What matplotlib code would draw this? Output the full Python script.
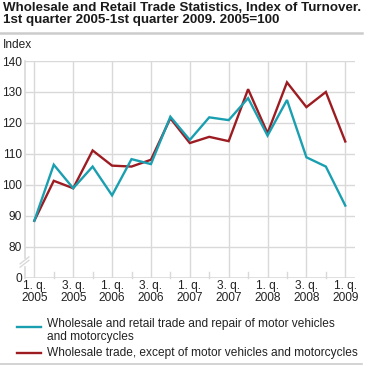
import matplotlib
matplotlib.use("Agg")
import matplotlib.pyplot as plt
from matplotlib.lines import Line2D

plt.rcParams['font.family'] = ['Liberation Sans', 'DejaVu Sans']

#####DATA#####
quarters = list(range(17))
tick_labels = ['1. q.\n2005', '3. q.\n2005', '1. q.\n2006', '3. q.\n2006', '1. q.\n2007',
               '3. q.\n2007', '1. q.\n2008', '3. q.\n2008', '1. q.\n2009']
retail_repair = [88.4, 106.5, 98.9, 105.9, 96.6, 108.3, 106.7, 122.0, 114.5,
                 121.8, 120.9, 128.0, 115.9, 127.4, 108.9, 105.9, 93.3]
wholesale = [88.4, 101.3, 98.9, 111.1, 106.2, 105.9, 108.1, 121.5, 113.5,
             115.5, 114.1, 130.9, 116.7, 133.1, 125.1, 130.0, 114.0]
y_ticks = [80, 90, 100, 110, 120, 130, 140]
label_retail = 'Wholesale and retail trade and repair of motor vehicles\nand motorcycles'
label_wholesale = 'Wholesale trade, except of motor vehicles and motorcycles'

teal = '#1a9fb1'
red = '#9c1c22'
grid_col = '#d9d9d9'
fs = 8.6

#####FIGURE#####
fig = plt.figure(figsize=(3.69, 3.66), dpi=100)
W, H = 369, 366
ax = fig.add_axes([25 / W, 1 - 277.7 / H, 330 / W, 216.7 / H])

# y axis is broken: 0 is drawn where 70 would be
y_zero = 70
ax.set_ylim(y_zero, 140)
ax.set_xlim(-0.48, 16.5)

for v in y_ticks:
    ax.axhline(v, color=grid_col, lw=1, zorder=1)
ax.axhline(y_zero, color=grid_col, lw=1.2, zorder=1)
for q in quarters[::2]:
    ax.axvline(q, color=grid_col, lw=1, zorder=1)
for q in quarters[1::2]:
    ax.plot([q, q], [y_zero, y_zero + 2], color=grid_col, lw=1, zorder=1, clip_on=False)

# left spine with break marks
xl = ax.get_xlim()[0]
ax.plot([xl, xl], [y_zero, 73.3], color=grid_col, lw=1.2, clip_on=False)
ax.plot([xl, xl], [76.5, 140], color=grid_col, lw=1.2, clip_on=False)
for off in (0, 1.1):
    ax.plot([xl - 0.25, xl + 0.2], [73.4 + off, 75.6 + off], color=grid_col, lw=1, clip_on=False)

ax.plot(quarters, retail_repair, color=teal, lw=1.7, zorder=3, solid_joinstyle='miter')
ax.plot(quarters, wholesale, color=red, lw=1.7, zorder=2, solid_joinstyle='miter')

for s in ax.spines.values():
    s.set_visible(False)
ax.set_yticks([y_zero] + y_ticks)
ax.set_yticklabels(['0'] + [str(v) for v in y_ticks])
ax.set_xticks(quarters[::2])
ax.set_xticklabels(tick_labels, linespacing=0.95)
ax.tick_params(length=0, labelsize=fs, colors='#222222', pad=2)
ax.tick_params(axis='y', pad=2)

#####TEXT#####
fig.text(3 / W, 1 - 2 / H, 'Wholesale and Retail Trade Statistics, Index of Turnover.\n'
         '1st quarter 2005-1st quarter 2009. 2005=100',
         fontsize=9.6, fontweight='bold', va='top', ha='left', linespacing=1.05, color='#1a1a1a')
fig.add_artist(Line2D([0, 362 / W], [1 - 33 / H] * 2, color='#cccccc', lw=1.8))
fig.text(3 / W, 1 - 45 / H, 'Index', fontsize=fs, va='center', ha='left', color='#222222')

# legend
fig.add_artist(Line2D([17 / W, 41 / W], [1 - 327 / H] * 2, color=teal, lw=1.7))
fig.add_artist(Line2D([17 / W, 41 / W], [1 - 353 / H] * 2, color=red, lw=1.7))
fig.text(47 / W, 1 - 318 / H, label_retail, fontsize=fs, va='top', ha='left',
         linespacing=1.15, color='#222222')
fig.text(47 / W, 1 - 353 / H, label_wholesale, fontsize=fs, va='center', ha='left', color='#222222')
fig.add_artist(Line2D([0, 362 / W], [1 - 363.5 / H] * 2, color='#cccccc', lw=1.2))

fig.savefig('out.png', dpi=100)
